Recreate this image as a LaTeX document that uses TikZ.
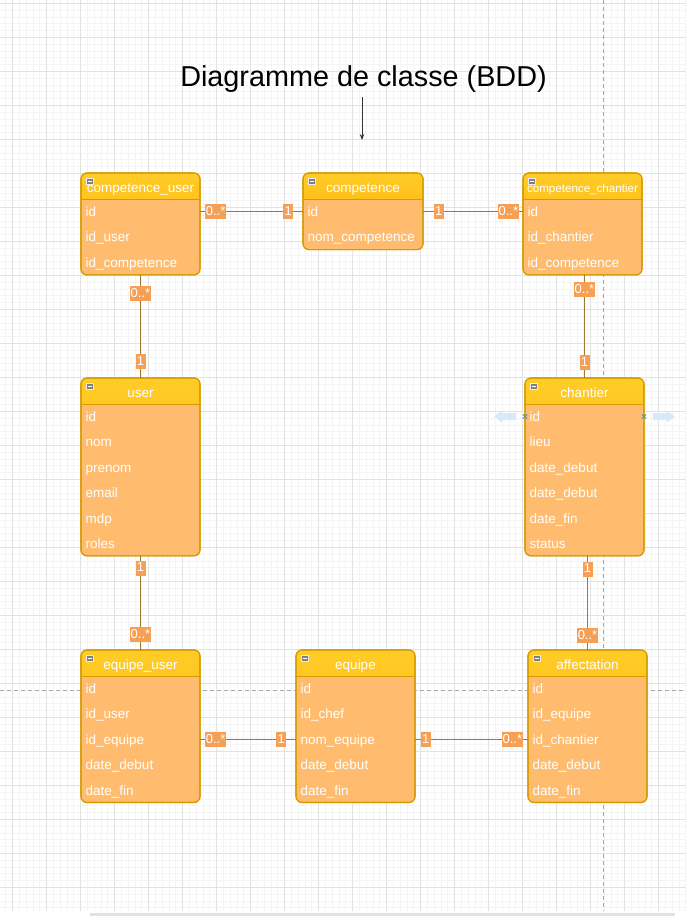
\documentclass[tikz,border=0pt]{standalone}
\usepackage{fontspec}
\setmainfont{Liberation Sans}
\usetikzlibrary{arrows.meta}
\definecolor{body}{HTML}{FFBC6E}
\definecolor{hdtop}{HTML}{FFCD28}
\definecolor{hdbot}{HTML}{FFA500}
\definecolor{border}{HTML}{D79B00}
\definecolor{multfill}{HTML}{F5A055}
\definecolor{connc}{HTML}{A07A2C}
\definecolor{gridminor}{HTML}{F4F4F4}
\definecolor{gridmajor}{HTML}{E2E2E2}
\definecolor{guide}{HTML}{A8A8A8}
\definecolor{hoverblue}{HTML}{D6EAF8}
\definecolor{hoverx}{HTML}{3C9AC8}
\definecolor{iconfill}{HTML}{808080}
\definecolor{scrollbar}{HTML}{E2E2E2}

\tikzset{
  classbox/.style={draw=border, line width=1.1pt, rounded corners=6pt, fill=body,
    inner sep=0pt, outer sep=0pt,
    path picture={
      \shade[sharp corners, top color=hdtop, bottom color=hdbot]
        (path picture bounding box.north west) rectangle
        ([yshift=-26pt]path picture bounding box.north east);
      \draw[sharp corners, border, line width=0.7pt]
        ([yshift=-26pt]path picture bounding box.north west) --
        ([yshift=-26pt]path picture bounding box.north east);
    }},
  classborder/.style={draw=border, line width=1.1pt, rounded corners=6pt},
  classtitle/.style={text=white, font=\fontsize{13.5}{16}\selectfont, inner sep=0pt},
  rowtxt/.style={text=white, font=\fontsize{13.5}{16}\selectfont, anchor=west,
    inner sep=0pt, text height=11pt, text depth=2pt},
  iconbox/.style={fill=iconfill, draw=white!85!gray, line width=0.5pt,
    minimum width=7pt, minimum height=6.5pt, inner sep=0pt},
  conn/.style={draw=connc, line width=1.7pt},
  mult/.style={fill=multfill, text=white, font=\fontsize{13}{14}\selectfont,
    inner xsep=1pt, inner ysep=0pt, text height=10pt, text depth=2.5pt,
    minimum height=15pt, minimum width=10pt},
  gridmin/.style={draw=gridminor, line width=0.5pt},
  gridmaj/.style={draw=gridmajor, line width=0.6pt},
  guideline/.style={draw=guide, line width=0.8pt, dash pattern=on 4pt off 3pt},
  hoverarrow/.style={fill=hoverblue},
  hovermark/.style={draw=hoverx, line width=0.8pt},
}

% #1 name, #2 x, #3 y, #4 width, #5 rows count, #6 title, #7 rows
\newcommand{\umlclass}[7]{%
  \pgfmathsetmacro{\boxh}{26+25.3*#5}%
  \node[classbox, anchor=north west, minimum width=#4pt, minimum height=\boxh pt] (#1) at (#2,#3) {};
  \draw[classborder] (#1.north west) rectangle (#1.south east);
  \node[classtitle, anchor=base] (#1-t) at ([yshift=-19pt]#1.north) {#6};
  \node[iconbox] (#1-i) at ([xshift=8.5pt,yshift=-8pt]#1.north west) {};
  \draw[white, line width=1pt] ([xshift=-2pt]#1-i.center) -- ([xshift=2pt]#1-i.center);
  \foreach \r [count=\k] in {#7} {%
    \pgfmathsetmacro{\ry}{-38.5-25.5*(\k-1)}%
    \node[rowtxt] (#1-\k) at ([xshift=4.5pt,yshift=\ry pt]#1.north west) {\r};
  }%
}

\begin{document}
\begin{tikzpicture}[x=1pt, y=-1pt]
\useasboundingbox (0,0) rectangle (686,916);
\fill[white] (0,0) rectangle (686,916);

% grid
\begin{scope}
\clip (0,0) rectangle (686,911);
\foreach \i in {-2,...,100} { \draw[gridmin] ({12.5+6.8*\i},0) -- ({12.5+6.8*\i},911); }
\foreach \i in {0,...,134} { \draw[gridmin] (0,{3.3+6.8*\i}) -- (686,{3.3+6.8*\i}); }
\foreach \i in {0,...,20} { \draw[gridmaj] ({12.5+34*\i},0) -- ({12.5+34*\i},911); }
\foreach \i in {0,...,26} { \draw[gridmaj] (0,{3.3+34*\i}) -- (686,{3.3+34*\i}); }
\end{scope}
\fill[scrollbar] (90,912.5) rectangle (675,916);

% guides
\draw[guideline] (0,690.5) -- (686,690.5);
\draw[guideline] (603.5,0) -- (603.5,911);

% title
\node[font=\fontsize{28.8}{34}\selectfont, anchor=base, inner sep=0pt] (title) at (363.5,86) {Diagramme de classe (BDD)};
\coordinate (titlearrowend) at (362,140);
\draw[-{Stealth[length=6pt,width=4.5pt]}, line width=0.8pt, black!80]
  ([yshift=-5pt]title.south -| titlearrowend) -- (titlearrowend);

% classes
\umlclass{cu}{81}{173}{119}{3}{competence\_user}{id,id\_user,id\_competence}
\umlclass{co}{303}{173}{120}{2}{competence}{id,nom\_competence}
\umlclass{cc}{523}{173}{119}{3}{\fontsize{11.6}{13}\selectfont competence\_chantier}{id,id\_chantier,id\_competence}
\umlclass{us}{81}{378}{119}{6}{user}{id,nom,prenom,email,mdp,roles}
\umlclass{ch}{525}{378}{119}{6}{chantier}{id,lieu,date\_debut,date\_debut,date\_fin,status}
\umlclass{eu}{81}{650}{119}{5}{equipe\_user}{id,id\_user,id\_equipe,date\_debut,date\_fin}
\umlclass{eq}{296}{650}{119}{5}{equipe}{id,id\_chef,nom\_equipe,date\_debut,date\_fin}
\umlclass{af}{528}{650}{119}{5}{affectation}{id,id\_equipe,id\_chantier,date\_debut,date\_fin}

% hover artefacts on chantier
\coordinate (chl) at (ch.west |- ch-1);
\coordinate (chr) at (ch.east |- ch-1);
\fill[hoverarrow] ([xshift=-31pt]chl) -- ++(8,-6) -- ++(0,2.5) -- ++(14,0) -- ++(0,7) -- ++(-14,0) -- ++(0,2.5) -- cycle;
\fill[hoverarrow] ([xshift=31pt]chr) -- ++(-8,-6) -- ++(0,2.5) -- ++(-14,0) -- ++(0,7) -- ++(14,0) -- ++(0,2.5) -- cycle;
\draw[hovermark] ([shift={(-2.2pt,-2.2pt)}]chl) -- ([shift={(2.2pt,2.2pt)}]chl);
\draw[hovermark] ([shift={(-2.2pt,2.2pt)}]chl) -- ([shift={(2.2pt,-2.2pt)}]chl);
\draw[hovermark] ([shift={(-2.2pt,-2.2pt)}]chr) -- ([shift={(2.2pt,2.2pt)}]chr);
\draw[hovermark] ([shift={(-2.2pt,2.2pt)}]chr) -- ([shift={(2.2pt,-2.2pt)}]chr);

% connectors
\draw[conn] (cu-1 -| cu.east) -- (co-1 -| co.west)
  node[mult, pos=0, anchor=west, xshift=4pt] (m1a) {0..*}
  node[mult, pos=1, anchor=east, xshift=-9pt] (m1b) {1};
\draw[conn] (co-1 -| co.east) -- (cc-1 -| cc.west)
  node[mult, pos=0, anchor=west, xshift=10pt] (m2a) {1}
  node[mult, pos=1, anchor=east, xshift=-3pt] (m2b) {0..*};
\draw[conn] (cu.south) -- (us.north)
  node[mult, pos=0, anchor=north, yshift=-10pt] (m3a) {0..*}
  node[mult, pos=1, anchor=south, yshift=8pt] (m3b) {1};
\draw[conn] (ch.north |- cc.south) -- (ch.north)
  node[mult, pos=0, anchor=north, yshift=-6pt] (m4a) {0..*}
  node[mult, pos=1, anchor=south, yshift=7pt] (m4b) {1};
\draw[conn] (us.south) -- (eu.north)
  node[mult, pos=0, anchor=north, yshift=-4pt] (m5a) {1}
  node[mult, pos=1, anchor=south, yshift=7pt] (m5b) {0..*};
\draw[conn] (af.north |- ch.south) -- (af.north)
  node[mult, pos=0, anchor=north, yshift=-5pt] (m6a) {1}
  node[mult, pos=1, anchor=south, yshift=6pt] (m6b) {0..*};
\draw[conn] (eu-3 -| eu.east) -- (eq-3 -| eq.west)
  node[mult, pos=0, anchor=west, xshift=4pt] (m7a) {0..*}
  node[mult, pos=1, anchor=east, xshift=-9pt] (m7b) {1};
\draw[conn] (eq-3 -| eq.east) -- (af-3 -| af.west)
  node[mult, pos=0, anchor=west, xshift=5pt] (m8a) {1}
  node[mult, pos=1, anchor=east, xshift=-4pt] (m8b) {0..*};
\end{tikzpicture}
\end{document}
